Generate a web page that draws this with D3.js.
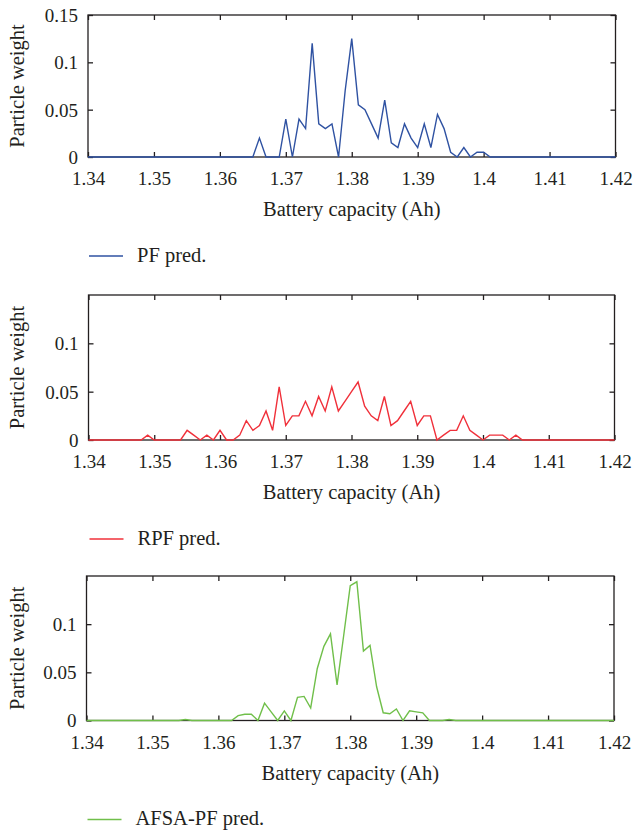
<!DOCTYPE html>
<html>
<head>
<meta charset="utf-8">
<title>Particle weight</title>
<script src="https://cdn.jsdelivr.net/npm/d3@7"></script>
<style>
  body { margin: 0; background: #fff; }
  svg { display: block; }
  .lbl { font-family: "Liberation Serif", "Times New Roman", serif; fill: #231f20; }
  .tick text { font-family: "Liberation Serif", "Times New Roman", serif; font-size: 19px; fill: #231f20; }
  .tick line { stroke: #231f20; stroke-width: 1.3; }
</style>
</head>
<body>
<svg id="chart" width="633" height="831"></svg>
<script>
// capacity grid, 1.340 .. 1.420 Ah
var capacity = d3.range(1340, 1421).map(function(d){ return d / 1000; });

var pfWeight = [
  0,0,0,0,0,0,0,0,0,0, 0,0,0,0,0,0,0,0,0,0, 0,0,0,0,0,0,      // 1.340-1.365
  0.02,0,0,0,0.04,0,0.04,0.03,0.12,0.035,                     // 1.366-1.375
  0.03,0.035,0,0.07,0.125,0.055,0.05,0.035,0.02,0.06,         // 1.376-1.385
  0.015,0.01,0.035,0.02,0.01,0.035,0.01,0.045,0.03,0.005,     // 1.386-1.395
  0,0.01,0,0.005,0.005,                                       // 1.396-1.400
  0,0,0,0,0,0,0,0,0,0, 0,0,0,0,0,0,0,0,0,0                    // 1.401-1.420
];
var rpfWeight = [
  0,0,0,0,0,0,0,0,0,                                          // 1.340-1.348
  0.005,0,0,0,0,0,0.01,0.005,0,0.005,                         // 1.349-1.358
  0,0.01,0,0,0.005,0.02,0.01,0.015,0.03,0.01,                 // 1.359-1.368
  0.055,0.015,0.025,0.025,0.04,0.025,0.045,0.03,0.055,0.03,   // 1.369-1.378
  0.04,0.05,0.06,0.035,0.025,0.02,0.045,0.015,0.02,0.03,      // 1.379-1.388
  0.04,0.015,0.025,0.025,0,0.005,0.01,0.01,0.025,0.01,        // 1.389-1.398
  0.005,0,0.005,0.005,0.005,0,0.005,                          // 1.399-1.405
  0,0,0,0,0,0,0,0,0,0, 0,0,0,0,0                              // 1.406-1.420
];
var afsaWeight = [
  0,0,0,0,0,0,0,0,0,0, 0,0,0,0,0,                             // 1.340-1.354
  0.001,0,0,0,0,0,0,0,                                        // 1.355-1.362
  0.005,0.0065,0.0065,0,0.018,0.009,0,0.01,0,0.024,           // 1.363-1.372
  0.025,0.013,0.054,0.077,0.09,0.037,0.088,0.14,0.144,0.072,  // 1.373-1.382
  0.078,0.035,0.008,0.007,0.012,0,0.01,0.009,0.008,0,         // 1.383-1.392
  0,0,0.001,                                                  // 1.393-1.395
  0,0,0,0,0,0,0,0,0,0, 0,0,0,0,0,0,0,0,0,0, 0,0,0,0,0         // 1.396-1.420
];

var xTicks = [1.34, 1.35, 1.36, 1.37, 1.38, 1.39, 1.40, 1.41, 1.42];
var yTicksTop = [0, 0.05, 0.1, 0.15];
var yTicksRest = [0, 0.05, 0.1];
var seriesNames = ["PF pred.", "RPF pred.", "AFSA-PF pred."];

var panels = [
  {values: pfWeight,   name: seriesNames[0], color: "#2f52a2", yTicks: yTicksTop,  left: 88,   right: 615.5, top: 15,  bottom: 157},
  {values: rpfWeight,  name: seriesNames[1], color: "#f0303a", yTicks: yTicksRest, left: 88.5, right: 614.5, top: 295, bottom: 440},
  {values: afsaWeight, name: seriesNames[2], color: "#70bf4a", yTicks: yTicksRest, left: 86.5, right: 614,   top: 576, bottom: 720.5}
];

var svg = d3.select("#chart");
var fmt = function(d){ return String(+d.toFixed(3)); };

panels.forEach(function(p){
  var x = d3.scaleLinear().domain([1.34, 1.42]).range([p.left, p.right]);
  var y = d3.scaleLinear().domain([0, 0.15]).range([p.bottom, p.top]);
  var g = svg.append("g");

  // bottom axis with labels, ticks inward
  var bx = g.append("g").attr("transform", "translate(0," + p.bottom + ")")
    .call(d3.axisBottom(x).tickValues(xTicks).tickFormat(fmt).tickSizeInner(-5).tickSizeOuter(0));
  bx.selectAll(".tick text").attr("y", 28).attr("dy", 0);
  // top axis, ticks only
  g.append("g").attr("transform", "translate(0," + p.top + ")")
    .call(d3.axisTop(x).tickValues(xTicks).tickFormat("").tickSizeInner(-5).tickSizeOuter(0));
  // left axis with labels
  var ly = g.append("g").attr("transform", "translate(" + p.left + ",0)")
    .call(d3.axisLeft(y).tickValues(p.yTicks).tickFormat(fmt).tickSizeInner(-5).tickSizeOuter(0).tickPadding(10));
  ly.selectAll(".tick text").attr("dy", "0.34em");
  // right axis, ticks only
  g.append("g").attr("transform", "translate(" + p.right + ",0)")
    .call(d3.axisRight(y).tickValues(p.yTicks).tickFormat("").tickSizeInner(-5).tickSizeOuter(0));
  g.selectAll(".domain").remove();

  // frame
  g.append("rect")
    .attr("x", p.left).attr("y", p.top)
    .attr("width", p.right - p.left).attr("height", p.bottom - p.top)
    .attr("fill", "none").attr("stroke", "#231f20").attr("stroke-width", 1.3);

  // series line
  var line = d3.line()
    .x(function(d, i){ return x(capacity[i]); })
    .y(function(d){ return y(d); });
  g.append("path")
    .datum(p.values)
    .attr("d", line)
    .attr("fill", "none")
    .attr("stroke", p.color)
    .attr("stroke-width", 1.4)
    .attr("stroke-linejoin", "miter");

  // axis titles
  g.append("text").attr("class", "lbl")
    .attr("x", (p.left + p.right) / 2).attr("y", p.bottom + 59)
    .attr("text-anchor", "middle").attr("font-size", "20.5px")
    .text("Battery capacity (Ah)");
  g.append("text").attr("class", "lbl")
    .attr("transform", "translate(23.5," + ((p.top + p.bottom) / 2) + ") rotate(-90)")
    .attr("text-anchor", "middle").attr("font-size", "20.5px")
    .text("Particle weight");

  // legend
  g.append("line")
    .attr("x1", p.left + 1).attr("x2", p.left + 35)
    .attr("y1", p.bottom + 99).attr("y2", p.bottom + 99)
    .attr("stroke", p.color).attr("stroke-width", 1.4);
  g.append("text").attr("class", "lbl")
    .attr("x", p.left + 49).attr("y", p.bottom + 104.5)
    .attr("font-size", "20.5px")
    .text(p.name);
});
</script>
</body>
</html>
